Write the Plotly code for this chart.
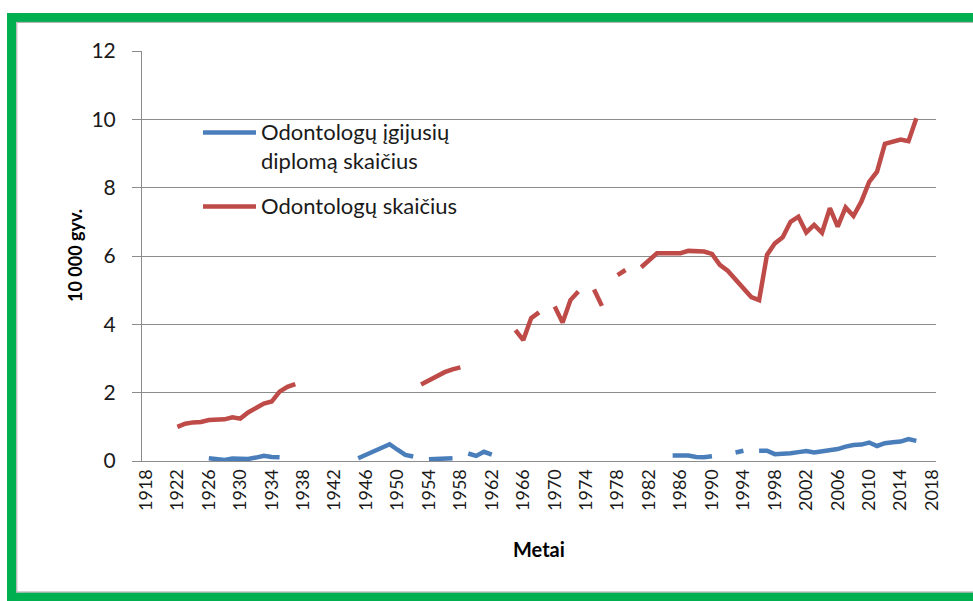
import plotly.graph_objects as go

# Number of dentists per 10 000 inhabitants (red) and of newly graduated dentists (blue)
red_years = list(range(1922, 2017))
red_values = [
    1.00, 1.09, 1.13, 1.14, 1.20, 1.21, 1.22, 1.28,                      # 1922-1929
    1.24, 1.42, 1.55, 1.68, 1.74, 2.03, 2.17, 2.25, None, None,          # 1930-1939
    None, None, None, None, None, None, None, None, None, None,          # 1940-1949
    None, None, None, 2.24, 2.36, 2.50, 2.60, 2.68, 2.74, None,          # 1950-1959
    None, None, None, None, None, 3.83, 3.54, 4.18, 4.35, None,          # 1960-1969
    4.52, 4.05, 4.71, 4.96, None, 5.02, 4.54, None, 5.44, 5.59,          # 1970-1979
    None, 5.67, 5.88, 6.08, 6.08, 6.08, 6.08, 6.15, 6.14, 6.13,          # 1980-1989
    6.06, 5.74, 5.57, 5.30, 5.05, 4.80, 4.71, 6.03, 6.37, 6.55,          # 1990-1999
    7.00, 7.15, 6.69, 6.91, 6.68, 7.40, 6.86, 7.42, 7.17, 7.59,          # 2000-2009
    8.17, 8.47, 9.28, 9.35, 9.41, 9.36, 10.03,                           # 2010-2016
]

blue_years = list(range(1926, 2017))
blue_values = [
    0.08, 0.05, 0.03, 0.07,                                              # 1926-1929
    0.07, 0.06, 0.10, 0.15, 0.12, 0.11, None, None, None, None,          # 1930-1939
    None, None, None, None, None, 0.08, 0.18, 0.29, 0.39, 0.49,          # 1940-1949
    0.33, 0.18, 0.13, None, 0.05, 0.07, 0.08, 0.08, None, 0.22,          # 1950-1959
    0.15, 0.27, 0.19, None, None, None, None, None, None, None,          # 1960-1969
    None, None, None, None, None, None, None, None, None, None,          # 1970-1979
    None, None, None, None, None, 0.16, 0.16, 0.16, 0.12, 0.11,          # 1980-1989
    0.14, None, None, 0.25, 0.30, None, 0.30, 0.30, 0.20, 0.20,          # 1990-1999
    0.23, 0.26, 0.29, 0.25, 0.28, 0.31, 0.35, 0.42, 0.47, 0.48,          # 2000-2009
    0.54, 0.44, 0.52, 0.55, 0.57, 0.64, 0.59,                            # 2010-2016
]

x_ticks = list(range(1918, 2019, 4))
y_ticks = list(range(0, 13, 2))

blue_name = "Odontologų įgijusių diplomą skaičius"
blue_label = ["Odontologų įgijusių", "diplomą skaičius"]
red_name = "Odontologų skaičius"

BLUE = "#4A7EBB"
RED = "#BE4B48"
GRID = "#8C8C8C"
FONT = "Lato"

W, H = 973, 601
L, R, T, B = 142, 37, 51, 140
PW, PH = W - L - R, H - T - B


def px(xp):
    return (xp - L) / PW


def py(yp):
    return (H - B - yp) / PH


fig = go.Figure()
fig.add_trace(go.Scatter(x=blue_years, y=blue_values, mode="lines", name=blue_name,
                         line=dict(color=BLUE, width=4.5), connectgaps=False))
fig.add_trace(go.Scatter(x=red_years, y=red_values, mode="lines", name=red_name,
                         line=dict(color=RED, width=4.5), connectgaps=False))

shapes = [
    # outer green frame and the thin grey chart border inside it
    dict(type="rect", xref="paper", yref="paper", x0=px(11.5), y0=py(17.5),
         x1=px(995), y1=py(597), line=dict(color="#00B050", width=9)),
    dict(type="rect", xref="paper", yref="paper", x0=px(16.8), y0=py(22.3),
         x1=px(990), y1=py(592), line=dict(color="#A0A0A0", width=1)),
    # legend samples
    dict(type="line", xref="paper", yref="paper", x0=px(203), x1=px(256),
         y0=py(132.5), y1=py(132.5), line=dict(color=BLUE, width=4.5)),
    dict(type="line", xref="paper", yref="paper", x0=px(203), x1=px(256),
         y0=py(206.5), y1=py(206.5), line=dict(color=RED, width=4.5)),
]

legend_font = dict(family=FONT, size=22, color="#1A1A1A")
annotations = [
    dict(text=blue_label[0], x=px(259), y=py(131), xref="paper", yref="paper",
         xanchor="left", yanchor="middle", showarrow=False, font=legend_font),
    dict(text=blue_label[1], x=px(259), y=py(160), xref="paper", yref="paper",
         xanchor="left", yanchor="middle", showarrow=False, font=legend_font),
    dict(text=red_name, x=px(259), y=py(205), xref="paper", yref="paper",
         xanchor="left", yanchor="middle", showarrow=False, font=legend_font),
    dict(text="<b>Metai</b>", x=0.5, y=py(549), xref="paper", yref="paper",
         xanchor="center", yanchor="middle", showarrow=False,
         font=dict(family=FONT, size=20, color="#000000")),
    dict(text="<b>10 000 gyv.</b>", x=px(75), y=0.5, xref="paper", yref="paper",
         xanchor="center", yanchor="middle", showarrow=False, textangle=-90,
         font=dict(family=FONT, size=18, color="#000000")),
]

fig.update_layout(
    width=W, height=H,
    margin=dict(l=L, r=R, t=T, b=B),
    paper_bgcolor="white", plot_bgcolor="white",
    showlegend=False,
    font=dict(family=FONT, size=18, color="#1A1A1A"),
    shapes=shapes, annotations=annotations,
    xaxis=dict(range=[1917.5, 2018.5], tickvals=x_ticks, ticktext=[str(v) for v in x_ticks],
               tickangle=-90, showgrid=False, zeroline=False, showline=True,
               linecolor=GRID, linewidth=1, ticks="", tickfont=dict(size=18)),
    yaxis=dict(range=[0, 12], tickvals=y_ticks, showgrid=True, gridcolor=GRID, gridwidth=1,
               zeroline=False, showline=True, linecolor=GRID, linewidth=1,
               ticks="outside", ticklen=9, tickcolor=GRID, ticklabelstandoff=12,
               tickfont=dict(size=21)),
)

fig.write_html("out.html")
